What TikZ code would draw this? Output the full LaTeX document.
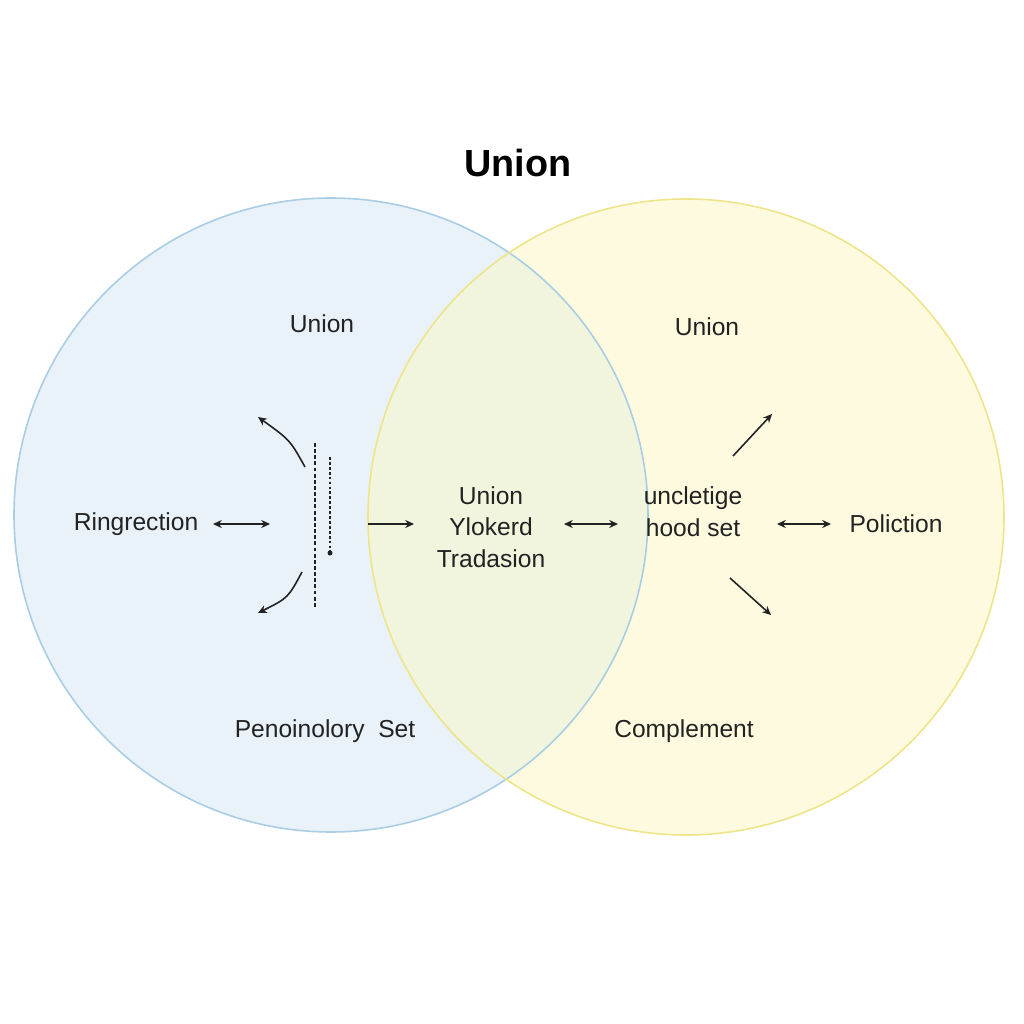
\documentclass[tikz,border=0pt]{standalone}
\usepackage{fontspec}
\setmainfont{Liberation Sans}
\usetikzlibrary{arrows.meta}
\definecolor{lblue}{HTML}{E9F1F9}
\definecolor{lbluestroke}{HTML}{A9CDE2}
\definecolor{lyel}{HTML}{FEFAE0}
\definecolor{lyelstroke}{HTML}{EEE58A}
\definecolor{lmix}{HTML}{F2F5DE}
\definecolor{txt}{HTML}{222222}
\tikzset{
  lbl/.style={text=txt, font=\fontsize{14}{18}\selectfont, align=center, inner sep=0pt},
  conn/.style={draw=txt, line width=0.9pt},
  tip/.style={-{Stealth[length=5pt,width=4.6pt]}},
  dtip/.style={{Stealth[length=5pt,width=4.6pt]}-{Stealth[length=5pt,width=4.6pt]}},
}
\begin{document}
\begin{tikzpicture}[x=0.02cm,y=-0.02cm]
\useasboundingbox (0,0) rectangle (1024,1024);
\fill[white] (0,0) rectangle (1024,1024);
% circles
\fill[lblue] (331,515) circle (317);
\fill[lyel] (686,517) circle (318);
\begin{scope}
  \clip (331,515) circle (317);
  \fill[lmix] (686,517) circle (318);
\end{scope}
\draw[lbluestroke, line width=0.9pt] (331,515) circle (317);
\draw[lyelstroke, line width=0.9pt] (686,517) circle (318);
% title
\node[text=black, font=\bfseries\fontsize{21.5}{26}\selectfont, inner sep=0pt] (title) at (518,163) {Union};
% labels
\node[lbl] (uL) at (322,324) {Union};
\node[lbl] (uR) at (707,327) {Union};
\node[lbl] (ring) at (136,524) {Ringrection};
\node[lbl] (pol) at (896,524) {Poliction};
\node[lbl] (mid) at (491,527) {Union\\Ylokerd\\Tradasion};
\node[lbl] (unc) at (693,512) {uncletige\\hood set};
\node[lbl] (pen) at (325,731) {Penoinolory\ \ Set};
\node[lbl] (comp) at (684,731) {Complement};
% coordinates
\coordinate (a1) at (213,524); \coordinate (a2) at (270,524);
\coordinate (c1s) at (305,467); \coordinate (c1e) at (258,417);
\coordinate (c2s) at (302,572); \coordinate (c2e) at (258,613);
\coordinate (d1s) at (315,443); \coordinate (d1e) at (315,609);
\coordinate (d2s) at (330,457); \coordinate (d2e) at (330,553);
\coordinate (b1) at (368,524); \coordinate (b2) at (414,524);
\coordinate (e1) at (564,524); \coordinate (e2) at (618,524);
\coordinate (f1) at (733,456); \coordinate (f2) at (772,414);
\coordinate (g1) at (777,524); \coordinate (g2) at (831,524);
\coordinate (h1) at (730,578); \coordinate (h2) at (771,615);
% connectors
\draw[conn, dtip] (a1) -- (a2);
\draw[conn, tip] (c1s) .. controls (290,440) .. (c1e);
\draw[conn, tip] (c2s) .. controls (288,598) .. (c2e);
\draw[conn, dash pattern=on 2.2pt off 1.3pt, line width=0.7pt] (d1s) -- (d1e);
\draw[conn, dash pattern=on 1.6pt off 1.2pt, line width=0.7pt] (d2s) -- (d2e);
\fill[txt] (d2e) circle (2.5);
\draw[conn, tip] (b1) -- (b2);
\draw[conn, dtip] (e1) -- (e2);
\draw[conn, tip] (f1) -- (f2);
\draw[conn, dtip] (g1) -- (g2);
\draw[conn, tip] (h1) -- (h2);
\end{tikzpicture}
\end{document}
